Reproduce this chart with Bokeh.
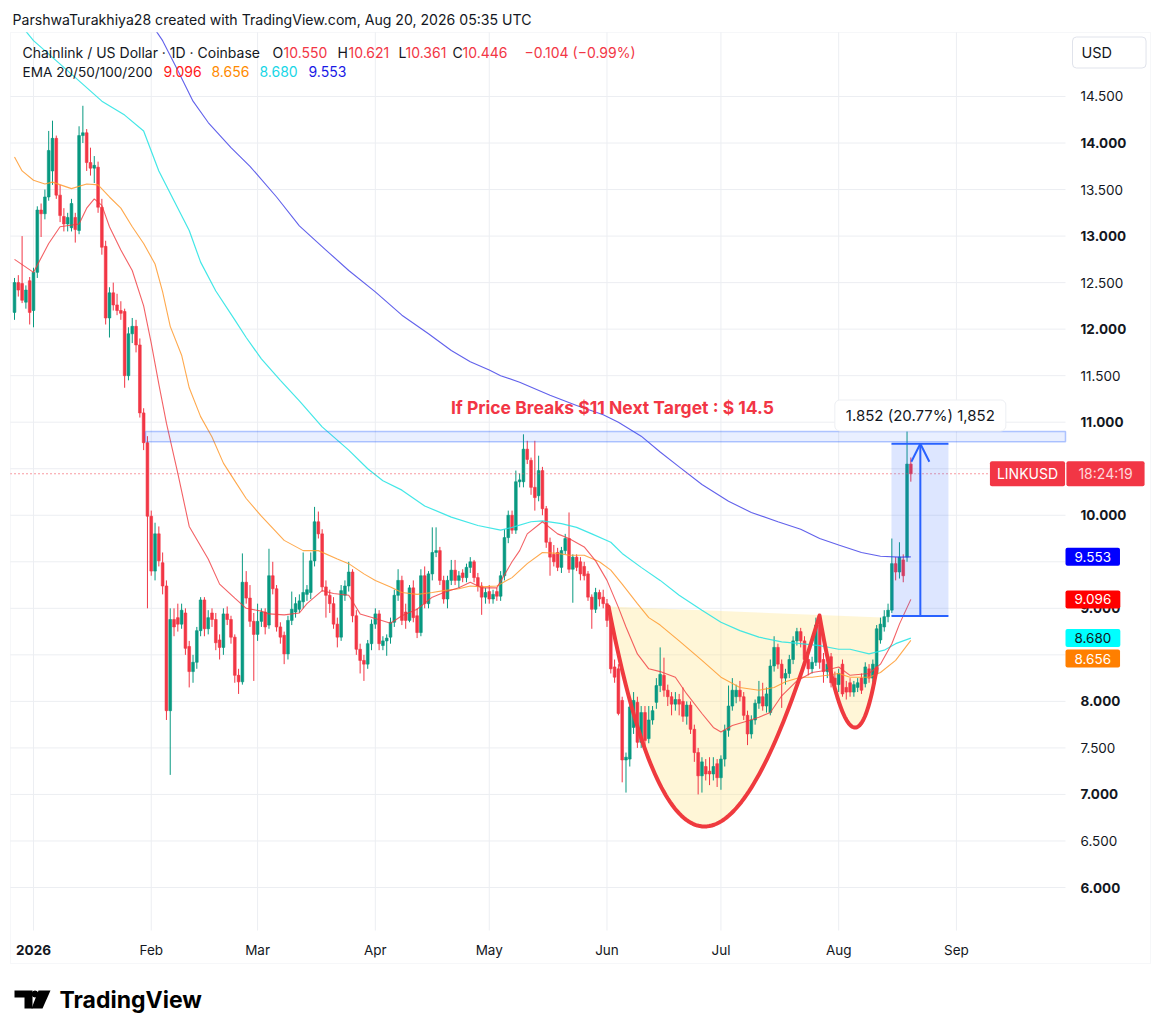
import numpy as np
from bokeh.plotting import figure
from bokeh.models import (Label, BoxAnnotation, Arrow, OpenHead, PolyAnnotation, Range1d, ColumnDataSource)
from bokeh.embed import file_html
from bokeh.resources import INLINE

FONT = "Inter"
TXT = "#131722"
UP = "#089981"
DOWN = "#F23645"
BORDER = "#e0e3eb"
GRID = "#eceef2"

# ---------------- data (daily candles, first candle = 2025-12-27, day index -5 from 2026-01-01)
first_day = -5
opens = [
    12.18, 12.50, 12.49, 12.29, 12.52, 12.20, 12.61, 13.28, 13.24, 13.42,
    13.70, 14.05, 13.44, 13.21, 13.13, 13.09, 13.20, 13.06, 14.08, 14.11,
    13.79, 13.73, 13.74, 13.31, 12.89, 12.12, 12.39, 12.26, 12.20, 12.19,
    11.50, 11.95, 12.03, 11.83, 11.10, 10.78, 9.99, 9.40, 9.80, 9.49,
    9.24, 7.90, 8.88, 8.90, 8.83, 8.95, 8.59, 8.32, 8.42, 8.76,
    9.09, 8.78, 8.95, 8.88, 8.66, 8.58, 8.94, 8.88, 8.69, 8.28,
    8.21, 9.28, 9.11, 8.86, 8.72, 8.86, 8.96, 8.82, 9.35, 9.21,
    8.80, 8.71, 8.51, 8.87, 8.96, 8.99, 9.07, 9.15, 9.17, 9.51,
    9.93, 9.80, 9.23, 9.14, 9.05, 8.83, 8.69, 9.14, 9.24, 9.39,
    8.92, 8.56, 8.44, 8.40, 8.62, 8.83, 8.94, 8.60, 8.65, 8.69,
    8.85, 9.14, 9.30, 8.96, 8.87, 9.22, 8.92, 8.74, 9.35, 9.05,
    9.37, 9.60, 9.62, 9.30, 9.10, 9.30, 9.41, 9.30, 9.38, 9.33,
    9.44, 9.50, 9.33, 9.24, 9.12, 9.18, 9.10, 9.18, 9.13, 9.35,
    9.76, 10.00, 9.84, 10.36, 10.36, 10.71, 10.59, 10.30, 10.21, 10.48,
    10.07, 9.71, 9.58, 9.60, 9.44, 9.62, 9.75, 9.42, 9.55, 9.50,
    9.45, 9.37, 9.12, 8.99, 9.17, 9.12, 9.05, 8.87, 8.37, 8.35,
    8.01, 7.37, 7.38, 7.72, 7.99, 7.56, 7.88, 7.60, 7.80, 7.99,
    8.17, 8.28, 8.12, 8.05, 7.97, 8.02, 8.00, 7.84, 7.96, 7.70,
    7.45, 7.20, 7.30, 7.25, 7.22, 7.33, 7.18, 7.38, 7.69, 7.95,
    8.05, 8.12, 8.05, 7.85, 7.65, 7.80, 7.98, 8.05, 7.95, 7.88,
    8.38, 8.58, 8.40, 8.25, 8.30, 8.45, 8.65, 8.75, 8.65, 8.45,
    8.35, 8.42, 8.82, 8.45, 8.32, 8.48, 8.25, 8.18, 8.40, 8.15,
    8.20, 8.10, 8.15, 8.25, 8.19, 8.35, 8.25, 8.30, 8.66, 8.80,
    8.91, 8.98, 9.48, 9.39, 9.52, 9.55, 10.550,
]
highs = [
    12.55, 12.58, 13.00, 12.47, 12.56, 12.66, 13.32, 13.35, 13.50, 14.13,
    14.24, 14.08, 13.55, 13.30, 13.25, 13.40, 13.25, 14.18, 14.40, 14.15,
    13.95, 13.86, 13.80, 13.40, 12.95, 12.45, 12.50, 12.38, 12.30, 12.22,
    12.02, 12.12, 12.10, 11.90, 11.15, 10.85, 10.05, 9.92, 9.88, 9.60,
    9.30, 9.00, 9.00, 9.05, 9.05, 9.00, 8.65, 8.50, 8.80, 9.12,
    9.12, 8.98, 9.00, 8.95, 8.72, 9.00, 9.02, 8.92, 8.72, 8.35,
    9.59, 9.40, 9.25, 8.95, 9.05, 9.00, 9.00, 9.64, 9.50, 9.25,
    8.85, 8.75, 8.92, 9.18, 9.12, 9.15, 9.60, 9.25, 9.60, 10.09,
    10.04, 9.85, 9.30, 9.20, 9.12, 8.90, 9.25, 9.30, 9.50, 9.42,
    8.98, 8.62, 8.50, 8.66, 8.88, 9.00, 8.98, 8.70, 8.72, 8.90,
    9.20, 9.42, 9.35, 9.05, 9.25, 9.30, 9.00, 9.42, 9.45, 9.40,
    9.87, 9.87, 9.66, 9.35, 9.35, 9.52, 9.52, 9.40, 9.42, 9.48,
    9.55, 9.52, 9.38, 9.28, 9.22, 9.25, 9.20, 9.22, 9.40, 9.85,
    10.05, 10.05, 10.48, 10.45, 10.87, 10.80, 10.62, 10.80, 10.64, 10.52,
    10.10, 9.76, 9.68, 9.65, 9.66, 9.80, 10.03, 9.58, 9.58, 9.55,
    9.50, 9.40, 9.15, 9.22, 9.20, 9.20, 9.10, 8.95, 8.45, 8.40,
    8.05, 7.45, 8.00, 8.10, 8.05, 7.95, 7.95, 7.95, 7.95, 8.25,
    8.58, 8.47, 8.18, 8.10, 8.10, 8.08, 8.15, 8.00, 8.00, 7.75,
    7.50, 7.40, 7.38, 7.40, 7.40, 7.38, 7.42, 7.75, 8.17, 8.25,
    8.18, 8.22, 8.10, 7.90, 7.85, 8.02, 8.22, 8.20, 8.15, 8.45,
    8.70, 8.62, 8.45, 8.35, 8.50, 8.70, 8.79, 8.79, 8.70, 8.50,
    8.48, 8.90, 8.85, 8.52, 8.45, 8.52, 8.32, 8.35, 8.45, 8.22,
    8.25, 8.22, 8.25, 8.30, 8.42, 8.40, 8.45, 8.82, 8.90, 8.98,
    9.05, 9.75, 9.55, 9.71, 9.58, 10.91, 10.621,
]
lows = [
    12.10, 12.35, 12.28, 12.22, 12.05, 12.02, 12.55, 12.99, 13.18, 13.38,
    13.55, 13.40, 13.15, 13.05, 13.05, 13.05, 12.93, 13.02, 14.00, 13.70,
    13.65, 13.57, 13.25, 12.80, 12.05, 11.91, 12.20, 12.15, 12.10, 11.37,
    11.45, 11.85, 11.75, 11.05, 10.70, 9.00, 9.35, 9.30, 9.45, 9.15,
    7.80, 7.21, 8.70, 8.75, 8.78, 8.50, 8.15, 8.20, 8.35, 8.70,
    8.70, 8.72, 8.80, 8.55, 8.45, 8.50, 8.82, 8.62, 8.20, 8.08,
    8.18, 9.05, 8.80, 8.22, 8.65, 8.80, 8.72, 8.78, 9.15, 8.75,
    8.62, 8.40, 8.45, 8.82, 8.90, 8.95, 9.00, 9.08, 9.10, 9.45,
    9.75, 9.18, 8.90, 8.95, 8.78, 8.58, 8.65, 9.08, 9.18, 8.85,
    8.50, 8.30, 8.22, 8.35, 8.55, 8.78, 8.55, 8.55, 8.49, 8.62,
    8.80, 9.08, 8.82, 8.78, 8.85, 8.85, 8.68, 8.70, 9.00, 9.00,
    9.30, 9.55, 9.25, 9.05, 9.00, 9.25, 9.25, 9.22, 9.28, 9.28,
    9.38, 9.28, 9.18, 8.93, 9.05, 9.05, 9.05, 9.08, 9.08, 9.30,
    9.70, 9.80, 9.80, 10.30, 10.30, 10.55, 10.22, 10.05, 10.15, 10.00,
    9.65, 9.35, 9.45, 9.40, 9.38, 9.58, 9.38, 9.06, 9.40, 9.30,
    9.30, 9.08, 8.78, 8.95, 9.02, 9.00, 8.80, 8.30, 8.20, 7.85,
    7.13, 7.02, 7.30, 7.65, 7.50, 7.50, 7.50, 7.55, 7.75, 7.92,
    8.10, 8.05, 7.95, 7.85, 7.90, 7.85, 7.78, 7.75, 7.65, 7.35,
    7.00, 7.02, 7.15, 7.10, 7.15, 7.08, 7.05, 7.30, 7.62, 7.90,
    7.98, 8.00, 7.80, 7.53, 7.60, 7.75, 7.92, 7.90, 7.88, 7.85,
    8.32, 8.35, 7.93, 8.18, 8.25, 8.40, 8.60, 8.58, 8.40, 8.28,
    8.30, 8.38, 8.35, 8.20, 8.25, 8.15, 8.10, 8.10, 8.05, 8.02,
    8.05, 8.05, 8.10, 8.08, 8.15, 8.20, 8.20, 8.28, 8.62, 8.75,
    8.85, 8.95, 9.30, 9.32, 9.28, 9.50, 10.361,
]
closes = [
    12.50, 12.42, 12.31, 12.42, 12.18, 12.61, 13.28, 13.24, 13.42, 13.92,
    14.05, 13.44, 13.22, 13.13, 13.20, 13.35, 13.07, 14.08, 14.11, 13.79,
    13.73, 13.76, 13.31, 12.88, 12.12, 12.39, 12.26, 12.20, 12.17, 11.50,
    11.95, 12.03, 11.83, 11.10, 10.78, 9.99, 9.40, 9.80, 9.51, 9.24,
    7.90, 8.88, 8.80, 8.83, 8.98, 8.57, 8.32, 8.42, 8.76, 9.09,
    8.78, 8.90, 8.88, 8.63, 8.58, 8.94, 8.88, 8.69, 8.28, 8.21,
    9.28, 9.11, 8.86, 8.72, 8.86, 8.96, 8.80, 9.35, 9.21, 8.80,
    8.69, 8.51, 8.87, 8.99, 9.05, 9.08, 9.17, 9.20, 9.51, 9.93,
    9.80, 9.23, 9.14, 9.05, 8.83, 8.69, 9.19, 9.24, 9.39, 8.92,
    8.56, 8.44, 8.40, 8.62, 8.83, 8.94, 8.62, 8.65, 8.68, 8.85,
    9.14, 9.30, 8.87, 8.87, 9.22, 8.90, 8.74, 9.35, 9.05, 9.37,
    9.60, 9.62, 9.30, 9.10, 9.30, 9.41, 9.30, 9.35, 9.33, 9.44,
    9.50, 9.33, 9.24, 9.12, 9.17, 9.10, 9.15, 9.13, 9.35, 9.76,
    10.00, 9.84, 10.36, 10.38, 10.71, 10.60, 10.30, 10.19, 10.48, 10.07,
    9.71, 9.55, 9.50, 9.44, 9.62, 9.75, 9.42, 9.55, 9.44, 9.37,
    9.35, 9.12, 8.99, 9.17, 9.10, 9.05, 8.87, 8.35, 8.26, 7.87,
    7.37, 7.40, 7.94, 8.01, 7.56, 7.88, 7.58, 7.80, 7.90, 8.17,
    8.29, 8.12, 8.05, 7.97, 8.02, 7.97, 7.84, 7.96, 7.70, 7.45,
    7.20, 7.35, 7.22, 7.22, 7.30, 7.18, 7.38, 7.69, 7.95, 8.12,
    8.12, 8.05, 7.85, 7.65, 7.80, 7.98, 8.05, 7.95, 8.08, 8.38,
    8.58, 8.40, 8.25, 8.30, 8.45, 8.65, 8.75, 8.65, 8.45, 8.35,
    8.42, 8.82, 8.42, 8.32, 8.40, 8.20, 8.18, 8.30, 8.08, 8.10,
    8.10, 8.18, 8.20, 8.12, 8.37, 8.25, 8.40, 8.78, 8.83, 8.91,
    8.98, 9.48, 9.39, 9.55, 9.35, 10.55, 10.446,
]

# EMA lines (day index, value)
ema20_days = [-5, 0, 4, 7, 12, 14, 16, 18, 20, 23, 26, 29, 31, 33, 35, 38, 41, 46, 49, 53,
              56, 60, 62, 66, 70, 72, 76, 79, 83, 86, 90, 94, 97, 101, 105, 108, 112, 115, 118, 122,
              126, 128, 130, 134, 138, 141, 145, 148, 151, 154, 156, 159, 162, 165, 169, 172, 176, 179, 181, 184,
              188, 191, 194, 197, 201, 205, 208, 212, 215, 220, 223, 226, 228, 231]
ema20_vals = [12.75, 12.61, 12.92, 13.10, 13.13, 13.30, 13.40, 13.33, 13.10, 12.85, 12.63, 12.25, 11.85, 11.41, 10.99, 10.45, 9.88, 9.53, 9.26, 9.11,
              9.00, 8.97, 8.94, 8.93, 8.95, 9.05, 9.19, 9.16, 9.14, 8.94, 8.89, 8.84, 8.92, 8.99, 9.12, 9.17, 9.22, 9.28, 9.22, 9.22,
              9.50, 9.62, 9.80, 9.93, 9.80, 9.75, 9.66, 9.51, 9.30, 9.01, 8.80, 8.51, 8.35, 8.32, 8.26, 8.08, 7.87, 7.72, 7.67, 7.74,
              7.79, 7.83, 7.88, 8.06, 8.22, 8.31, 8.33, 8.37, 8.28, 8.30, 8.40, 8.62, 8.83, 9.096]
ema50_days = [-5, -3, 0, 3, 5, 10, 14, 17, 20, 23, 26, 29, 32, 34, 36, 39, 41, 44, 47, 50,
              53, 56, 60, 66, 71, 75, 80, 83, 87, 90, 94, 97, 101, 105, 108, 112, 115, 118, 122, 126,
              130, 134, 138, 141, 145, 149, 152, 155, 159, 162, 165, 170, 176, 181, 186, 191, 195, 198, 202, 205,
              209, 212, 215, 220, 223, 227, 231]
ema50_vals = [13.85, 13.70, 13.60, 13.56, 13.58, 13.51, 13.56, 13.55, 13.42, 13.30, 13.10, 12.92, 12.70, 12.40, 12.03, 11.72, 11.37, 11.06, 10.84, 10.56,
              10.37, 10.18, 9.99, 9.73, 9.62, 9.62, 9.53, 9.48, 9.37, 9.30, 9.23, 9.17, 9.15, 9.17, 9.19, 9.21, 9.24, 9.23, 9.24, 9.33,
              9.48, 9.60, 9.59, 9.57, 9.57, 9.50, 9.41, 9.26, 9.05, 8.90, 8.82, 8.65, 8.44, 8.26, 8.15, 8.12, 8.15, 8.21, 8.26, 8.26,
              8.28, 8.30, 8.26, 8.26, 8.31, 8.44, 8.656]
ema100_days = [-5, 0, 10, 18, 24, 29, 33, 37, 41, 44, 48, 53, 56, 60, 65, 70, 76, 83, 88, 92,
               97, 103, 110, 117, 123, 126, 131, 134, 139, 143, 147, 152, 155, 160, 165, 170, 176, 181, 186, 191,
               197, 202, 207, 212, 215, 220, 224, 227, 231]
ema100_vals = [15.35, 15.10, 14.74, 14.45, 14.30, 14.13, 13.70, 13.38, 13.06, 12.72, 12.41, 12.10, 11.91, 11.68, 11.45, 11.23, 10.95, 10.70, 10.50, 10.37,
               10.27, 10.10, 9.98, 9.89, 9.84, 9.87, 9.93, 9.94, 9.91, 9.87, 9.80, 9.71, 9.59, 9.44, 9.30, 9.14, 8.98, 8.85, 8.76, 8.69,
               8.64, 8.62, 8.60, 8.56, 8.56, 8.51, 8.55, 8.62, 8.68]
ema200_days = [28, 31, 34, 38, 42, 46, 52, 57, 64, 70, 77, 83, 90, 97, 104, 110, 115, 120, 123, 128,
               136, 143, 150, 154, 160, 165, 170, 176, 183, 189, 196, 202, 207, 212, 218, 223, 228, 231]
ema200_vals = [15.45, 15.28, 15.10, 14.78, 14.45, 14.22, 13.95, 13.75, 13.42, 13.11, 12.85, 12.63, 12.40, 12.15, 11.95, 11.77, 11.65, 11.56, 11.50, 11.43,
               11.29, 11.18, 11.08, 11.00, 10.85, 10.68, 10.52, 10.33, 10.15, 10.03, 9.93, 9.85, 9.75, 9.68, 9.60, 9.56, 9.55, 9.553]

month_days = [0, 31, 59, 90, 120, 151, 181, 212, 243]
month_labels = ["2026", "Feb", "Mar", "Apr", "May", "Jun", "Jul", "Aug", "Sep"]
price_ticks = [6.0, 6.5, 7.0, 7.5, 8.0, 8.5, 9.0, 9.5, 10.0, 10.5, 11.0, 11.5, 12.0, 12.5, 13.0, 13.5, 14.0, 14.5]
hidden_price_labels = [8.5, 9.5]   # covered by the EMA value boxes on the price scale

last_price = 10.446
ema_last = {"EMA20": 9.096, "EMA50": 8.656, "EMA100": 8.680, "EMA200": 9.553}

# drawings (day index, price)
band_left, band_bottom, band_top = 29.5, 10.79, 10.90
meas_left, meas_right, meas_bottom, meas_top, meas_mid = 225.9, 240.9, 8.917, 10.769, 233.5
cup_start = (151.4, 9.02)
cup_ctrl = (173.6, 4.34)
cup_peak = (206.95, 8.923)
handle_ctrl = (215.8, 6.845)
handle_end = (222.0, 8.353)
zone_top_right = (223.5, 8.901)

# ---------------- page geometry (pixels)
W, H = 1154, 1028
PX_DAY, X_JAN1 = 3.798, 33.0
PX_USD, Y_SIX = 93.06, 887.0

def day_at(X):
    return (X - X_JAN1) / PX_DAY

def price_at(Y):
    return 6.0 + (Y_SIX - Y) / PX_USD

def sx(X):
    return X

def sy(Y):
    return H - Y

CH_L, CH_R, CH_T, CH_B = 10, 1065, 32, 930     # chart pane
OUT_R, OUT_B = 1150, 963                        # outer border incl. scales

p = figure(frame_width=W, frame_height=H, output_backend="svg", toolbar_location=None, tools="",
           x_range=Range1d(day_at(0), day_at(W)), y_range=Range1d(price_at(H), price_at(0)),
           x_axis_location=None, y_axis_location=None, min_border=0,
           background_fill_color="white", border_fill_color="white")
p.outline_line_color = None
p.grid.visible = False

# grid
p.segment(x0=[day_at(CH_L)] * len(price_ticks), y0=price_ticks, x1=[day_at(CH_R)] * len(price_ticks), y1=price_ticks,
          line_color=GRID, line_width=1)
p.segment(x0=month_days, y0=[price_at(CH_B)] * len(month_days), x1=month_days, y1=[price_at(CH_T)] * len(month_days),
          line_color=GRID, line_width=1)

# cup & handle zone fill
def quad_bezier(a, c, b, n=90):
    t = np.linspace(0.0, 1.0, n)
    x = (1 - t) ** 2 * a[0] + 2 * (1 - t) * t * c[0] + t ** 2 * b[0]
    y = (1 - t) ** 2 * a[1] + 2 * (1 - t) * t * c[1] + t ** 2 * b[1]
    return x, y

cx, cy = quad_bezier(cup_start, cup_ctrl, cup_peak)
hx, hy = quad_bezier(cup_peak, handle_ctrl, handle_end)
curve_x = np.concatenate([cx, hx[1:]])
curve_y = np.concatenate([cy, hy[1:]])
p.patch(list(curve_x) + [zone_top_right[0]], list(curve_y) + [zone_top_right[1]],
        fill_color="#ffe07a", fill_alpha=0.30, line_color=None)

# candles
days = list(range(first_day, first_day + len(closes)))
colors = [UP if c >= o else DOWN for o, c in zip(opens, closes)]
src = ColumnDataSource(dict(x=days, o=opens, h=highs, l=lows, c=closes,
                            top=[max(o, c) for o, c in zip(opens, closes)],
                            bot=[min(o, c) for o, c in zip(opens, closes)], col=colors))
p.segment(x0="x", y0="l", x1="x", y1="h", line_color="col", line_width=1, source=src)
p.vbar(x="x", width=0.72, top="top", bottom="bot", fill_color="col", line_color="col", line_width=0.6, source=src)

# EMAs
p.line(ema100_days, ema100_vals, line_color="#22e3e3", line_width=1.2, line_alpha=0.85)
p.line(ema200_days, ema200_vals, line_color="#3a3ae6", line_width=1.1, line_alpha=0.8)
p.line(ema50_days, ema50_vals, line_color="#ff9a2e", line_width=1.1, line_alpha=0.85)
p.line(ema20_days, ema20_vals, line_color="#f0393f", line_width=1.1, line_alpha=0.8)

# cup curve
p.line(curve_x, curve_y, line_color="#ef3a3e", line_width=4, line_cap="round", line_join="round")

# current price dotted line
p.segment(x0=[day_at(CH_L)], y0=[last_price], x1=[day_at(990)], y1=[last_price],
          line_color=DOWN, line_dash="1 3", line_width=1)

# mask above the chart pane (acts as clipping for lines leaving the top)
p.add_layout(BoxAnnotation(left=0, right=W, bottom=sy(CH_T) + 0.5, top=H, left_units="screen", right_units="screen",
                           bottom_units="screen", top_units="screen", fill_color="white", fill_alpha=1, line_color=None))
# outer border
p.add_layout(BoxAnnotation(left=CH_L, right=OUT_R, bottom=sy(OUT_B), top=sy(CH_T), left_units="screen",
                           right_units="screen", bottom_units="screen", top_units="screen",
                           fill_alpha=0, line_color=BORDER, line_width=1))

# horizontal band (to the right edge of the chart pane)
p.add_layout(BoxAnnotation(left=band_left, right=day_at(CH_R), bottom=band_bottom, top=band_top,
                           fill_color="#2962ff", fill_alpha=0.10, line_color="#2962ff", line_alpha=0.35, line_width=1.5))

# measure tool
p.add_layout(BoxAnnotation(left=meas_left, right=meas_right, bottom=meas_bottom, top=meas_top,
                           fill_color="#2962ff", fill_alpha=0.16, line_color=None))
p.segment(x0=[meas_left, meas_left], y0=[meas_top, meas_bottom], x1=[meas_right, meas_right],
          y1=[meas_top, meas_bottom], line_color="#2962ff", line_width=2)
p.add_layout(Arrow(end=OpenHead(size=18, line_color="#2962ff", line_width=2),
                   x_start=meas_mid, y_start=meas_bottom, x_end=meas_mid, y_end=meas_top,
                   line_color="#2962ff", line_width=2))

# ---------------- texts
def add_label(text, x, y, color=TXT, size=13, bold=False, align="left", x_units="screen",
              y_units="screen", bg=None, border=None, pad=None, radius=0, alpha=1.0):
    kw = {}
    if bg is not None:
        kw.update(background_fill_color=bg, background_fill_alpha=1.0)
    if border is not None:
        kw.update(border_line_color=border, border_line_width=1)
    if pad is not None:
        kw["padding"] = pad
    if radius:
        kw["border_radius"] = radius
    lab = Label(x=x, y=y, x_units=x_units, y_units=y_units, text=text, text_font=FONT,
                text_font_size=f"{size}px", text_font_style="bold" if bold else "normal",
                text_color=color, text_alpha=alpha, text_align=align, text_baseline="middle", **kw)
    p.add_layout(lab)
    return lab

add_label("ParshwaTurakhiya28 created with TradingView.com, Aug 20, 2026 05:35 UTC", sx(12), sy(19), size=14.1)

add_label("Chainlink / US Dollar · 1D · Coinbase", sx(22), sy(52), size=14)
for txt, X, col in [("O", 272, TXT), ("10.550", 283, DOWN), ("H", 337, TXT), ("10.621", 348, DOWN),
                    ("L", 398, TXT), ("10.361", 405, DOWN), ("C", 452, TXT), ("10.446", 462, DOWN),
                    ("−0.104 (−0.99%)", 524, DOWN)]:
    add_label(txt, sx(X), sy(52), color=col, size=14)
add_label("EMA 20/50/100/200", sx(22), sy(71), size=13.6)
for txt, X, col in [("9.096", 163, "#ff1a1a"), ("8.656", 211, "#ff8a00"), ("8.680", 259, "#19d6e6"),
                    ("9.553", 308, "#1a1ae6")]:
    add_label(txt, sx(X), sy(71), color=col, size=14)

# big red note
add_label("If Price Breaks  $11 Next Target : $ 14.5", 152.98, 11.158, color=DOWN, size=17.5, bold=True,
          align="center", x_units="data", y_units="data")

# measure label
add_label("1.852 (20.77%) 1,852", meas_mid, 11.072, size=15, align="center", x_units="data", y_units="data",
          bg="white", border="#edeff3", pad=dict(left=11, right=11, top=6, bottom=6), radius=5)

# price scale labels
for t in price_ticks:
    if t in hidden_price_labels:
        continue
    add_label(f"{t:.3f}", sx(1080), t, size=13.5, bold=float(t).is_integer(), y_units="data")

# time scale labels
for d, lab in zip(month_days, month_labels):
    add_label(lab, d, sy(949), size=13.5, bold=(lab == "2026"), align="center", x_units="data")

# USD box
add_label("USD", sx(1072), sy(52), size=14.5, bg="white", border=BORDER,
          pad=dict(left=9, right=34, top=7, bottom=7), radius=4)

# price scale value boxes
add_label("LINKUSD", sx(1027), last_price, color="white", size=14, align="center", y_units="data",
          bg=DOWN, pad=dict(left=7, right=7, top=4, bottom=4), radius=2)
add_label("18:24:19", sx(1105), last_price, color="#ffd6da", size=14, align="center", y_units="data",
          bg=DOWN, pad=dict(left=12, right=12, top=4, bottom=4), radius=2)
box_pad = dict(left=9, right=9, top=4, bottom=4)
add_label("9.553", sx(1065), ema_last["EMA200"], color="white", size=13.5, y_units="data",
          bg="#0000ff", pad=box_pad, radius=2)
add_label("9.096", sx(1065), ema_last["EMA20"], color="white", size=13.5, y_units="data",
          bg="#ff0000", pad=box_pad, radius=2)
add_label("8.680", sx(1065), ema_last["EMA100"], color=TXT, size=13.5, y_units="data",
          bg="#00ffff", pad=box_pad, radius=2)
add_label("8.656", sx(1065), sy(658), color="white", size=13.5,
          bg="#ff7f00", pad=box_pad, radius=2)

# TradingView logo
logo_t_x = [14, 32, 32, 24, 24, 14]
logo_t_y = [990, 990, 1008, 1008, 997, 997]
logo_s_x = [38, 50, 42, 31]
logo_s_y = [990, 990, 1008, 1008]
for xs_, ys_ in [(logo_t_x, logo_t_y), (logo_s_x, logo_s_y)]:
    p.add_layout(PolyAnnotation(xs=[sx(v) for v in xs_], ys=[sy(v) for v in ys_], xs_units="screen",
                                ys_units="screen", fill_color="#000000", fill_alpha=1, line_color=None))
ang = np.linspace(0, 2 * np.pi, 24, endpoint=False)
p.add_layout(PolyAnnotation(xs=list(sx(34.5) + 3.4 * np.cos(ang)), ys=list(sy(993.5) + 3.4 * np.sin(ang)),
                            xs_units="screen", ys_units="screen", fill_color="#000000", fill_alpha=1, line_color=None))
add_label("TradingView", sx(59), sy(999), size=23, bold=True, color="#000000")

open("out.html", "w").write(file_html(p, INLINE))
